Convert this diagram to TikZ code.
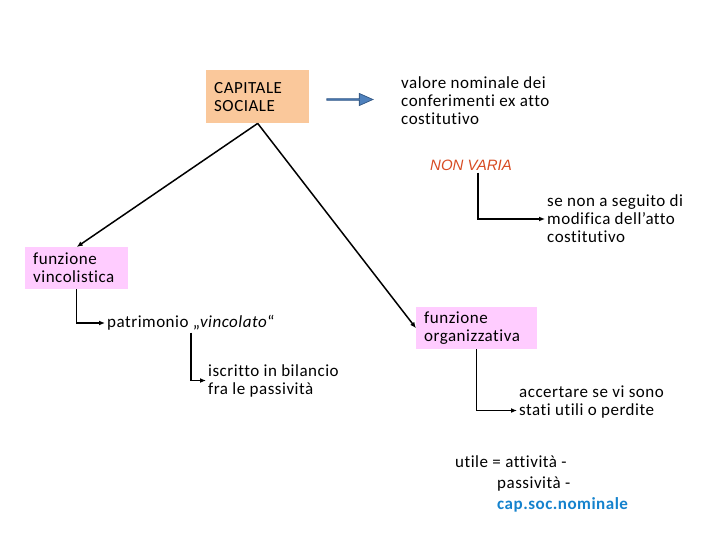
\documentclass[tikz,border=0pt]{standalone}
\usepackage{fontspec}
\setmainfont{Carlito}[LetterSpace=3, Ligatures=NoCommon]
\newfontfamily\arialfont{Liberation Sans}
\usepackage{xcolor}
\usetikzlibrary{arrows.meta, shapes.arrows}

\definecolor{capfill}{RGB}{250,200,155}
\definecolor{funcfill}{RGB}{255,204,255}
\definecolor{arrowblue}{RGB}{79,129,189}
\definecolor{arrowedge}{RGB}{56,93,138}
\definecolor{nonred}{RGB}{215,75,35}
\definecolor{capblue}{RGB}{20,130,205}

\begin{document}
\begin{tikzpicture}[
    x=1pt, y=-1pt,
    >={Latex[length=6pt, width=5pt]},
    every node/.style={font=\fontsize{17}{18}\selectfont},
    note/.style={
        anchor=west,
        align=left,
        inner sep=2pt
    },
    box/.style={
        anchor=north west,
        align=left,
        inner xsep=8pt,
        inner ysep=0pt
    },
    link/.style={->, line width=1.5pt}
]
\useasboundingbox (0,0) rectangle (720,540);

% Boxes
\node[box, fill=capfill, text width=87pt, minimum height=53pt]
    (capitale) at (206,70) {CAPITALE\\SOCIALE};
\node[box, fill=funcfill, text width=87pt, minimum height=42pt]
    (vincolo) at (25,247) {funzione\\vincolistica};
\node[box, fill=funcfill, text width=105pt, minimum height=42pt]
    (organizza) at (416,307) {funzione\\organizzativa};

% Block arrow
\node[single arrow, fill=arrowblue, draw=arrowedge, line width=0.8pt,
      minimum height=46pt, minimum width=12pt, inner sep=0pt,
      single arrow head extend=2.75pt, single arrow tip angle=48,
      single arrow head indent=0pt]
    (freccia) at (349,99.5) {};

% Plain texts
\node[note] (valore) at (399,101)
    {valore nominale dei\\conferimenti ex atto\\costitutivo};
\node[note, font=\arialfont\itshape\fontsize{15}{18}\selectfont, text=nonred]
    (nonvaria) at (428,165) {NON VARIA};
\node[note] (modifica) at (545,219)
    {se non a seguito di\\modifica dell'atto\\costitutivo};
\node[note] (patrimonio) at (105,323)
    {patrimonio \char"201E\textit{vincolato}\char"201C};
\node[note] (bilancio) at (206,380.5)
    {iscritto in bilancio\\fra le passività};
\node[note] (accertare) at (517,402.5)
    {accertare se vi sono\\stati utili o perdite};
\node[note] (utile) at (453,484)
    {utile = attività -\\[3pt]
     \hspace*{42pt}passività -\\[3pt]
     \hspace*{42pt}\textcolor{capblue}{\textbf{cap.soc.nominale}}};

% Connectors
\draw[link] (capitale.south) -- (vincolo.north);
\draw[link] (capitale.south) -- (organizza.west);
\draw[link] ([xshift=7pt]nonvaria.south) |- (modifica.west);
\draw[link] (vincolo.south) |- (patrimonio.west);
\draw[link] (patrimonio.south) |- (bilancio.west);
\draw[link] (organizza.south) |- ([yshift=-8pt]accertare.west);

\end{tikzpicture}
\end{document}
